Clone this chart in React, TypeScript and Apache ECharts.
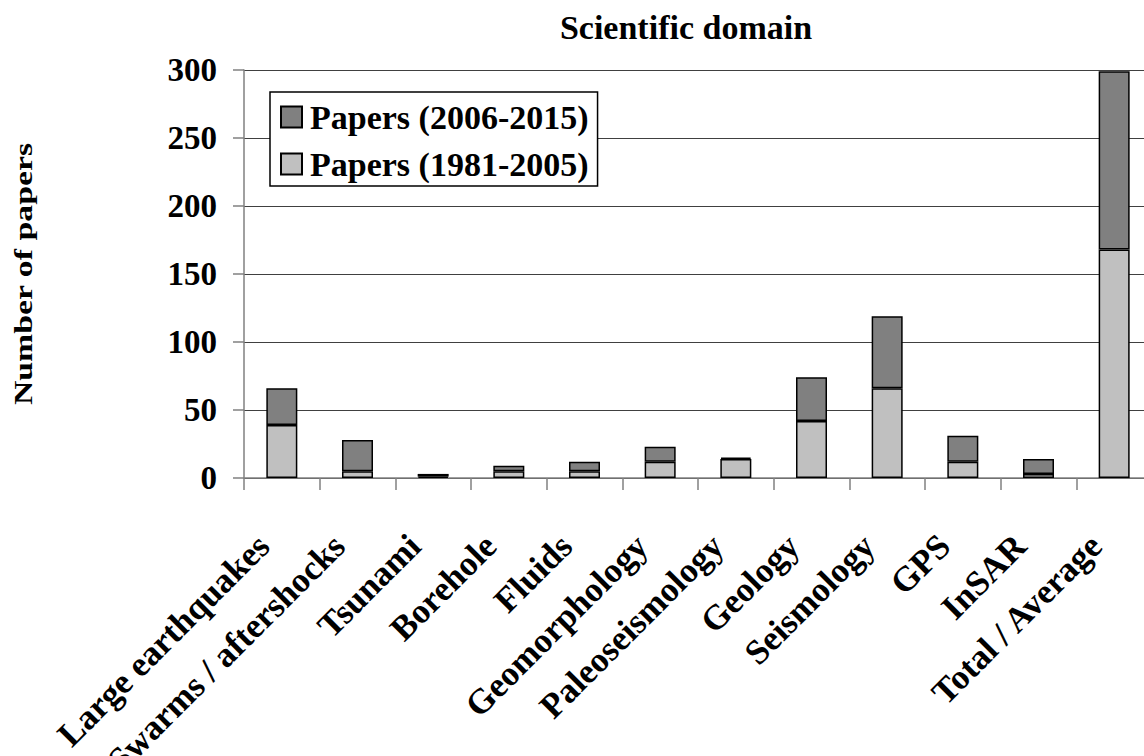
import React, { useEffect, useRef } from "react";
import * as echarts from "echarts";

const categories = [
  "Large earthquakes",
  "Swarms / aftershocks",
  "Tsunami",
  "Borehole",
  "Fluids",
  "Geomorphology",
  "Paleoseismology",
  "Geology",
  "Seismology",
  "GPS",
  "InSAR",
  "Total / Average",
];
const papers1981_2005 = [39, 5, 1, 5, 5, 12, 14, 42, 66, 12, 3, 168];
const papers2006_2015 = [27, 23, 2, 4, 7, 11, 1, 32, 53, 19, 11, 131];
const yTicks = [0, 50, 100, 150, 200, 250, 300];

const FONT = '"Liberation Serif", "Times New Roman", serif';

export default function App() {
  const ref = useRef<HTMLDivElement>(null);
  useEffect(() => {
    document.body.style.margin = "0";
    const chart = echarts.init(ref.current!, null, { renderer: "svg" });
    chart.setOption({
      animation: false,
      backgroundColor: "#fff",
      title: {
        text: "Scientific domain",
        left: 686,
        top: 10,
        textAlign: "center",
        padding: 0,
        textStyle: { fontFamily: FONT, fontWeight: "bold", fontSize: 34, color: "#000" },
      },
      legend: {
        orient: "vertical",
        left: 270,
        top: 92,
        padding: [8, 9, 5, 10],
        itemWidth: 21,
        itemHeight: 21,
        itemGap: 13,
        borderColor: "#000",
        borderWidth: 1.5,
        backgroundColor: "#fff",
        icon: "rect",
        data: ["Papers (2006-2015)", "Papers (1981-2005)"],
        textStyle: {
          fontFamily: FONT,
          fontWeight: "bold",
          fontSize: 34,
          lineHeight: 34,
          color: "#000",
          padding: [0, 0, 0, 3],
        },
      },
      grid: {
        left: 244,
        top: 70,
        bottom: 278,
        right: -8,
        containLabel: false,
        outerBoundsMode: "none",
      },
      xAxis: {
        type: "category",
        data: categories,
        axisLine: { lineStyle: { color: "#808080", width: 1.5 } },
        axisTick: { show: true, length: 12, lineStyle: { color: "#808080", width: 1.5 } },
        axisLabel: {
          interval: 0,
          rotate: 45,
          margin: 44,
          padding: [0, 26, 0, 0],
          fontFamily: FONT,
          fontWeight: "bold",
          fontSize: 35,
          color: "#000",
        },
      },
      yAxis: {
        type: "value",
        min: yTicks[0],
        max: yTicks[yTicks.length - 1],
        interval: 50,
        axisLine: { show: true, lineStyle: { color: "#808080", width: 1.5 } },
        axisTick: { show: true, length: 11, lineStyle: { color: "#808080", width: 1.5 } },
        axisLabel: {
          margin: 27,
          fontFamily: FONT,
          fontWeight: "bold",
          fontSize: 33,
          color: "#000",
        },
        splitLine: { show: true, lineStyle: { color: "#404040", width: 1.2 } },
      },
      graphic: [
        {
          type: "text",
          x: 23,
          y: 274,
          rotation: Math.PI / 2,
          scaleX: 1.3,
          style: {
            text: "Number of papers",
            fontFamily: FONT,
            fontWeight: "bold",
            fontSize: 26,
            align: "center",
            verticalAlign: "middle",
            fill: "#000",
          },
        },
      ],
      series: [
        {
          name: "Papers (1981-2005)",
          type: "bar",
          stack: "total",
          barWidth: 31,
          data: papers1981_2005,
          itemStyle: { color: "#c0c0c0", borderColor: "#000", borderWidth: 1.5 },
        },
        {
          name: "Papers (2006-2015)",
          type: "bar",
          stack: "total",
          barWidth: 31,
          data: papers2006_2015,
          itemStyle: { color: "#808080", borderColor: "#000", borderWidth: 1.5 },
        },
      ],
    });
    return () => chart.dispose();
  }, []);
  return <div ref={ref} style={{ width: 1144, height: 756 }} />;
}
